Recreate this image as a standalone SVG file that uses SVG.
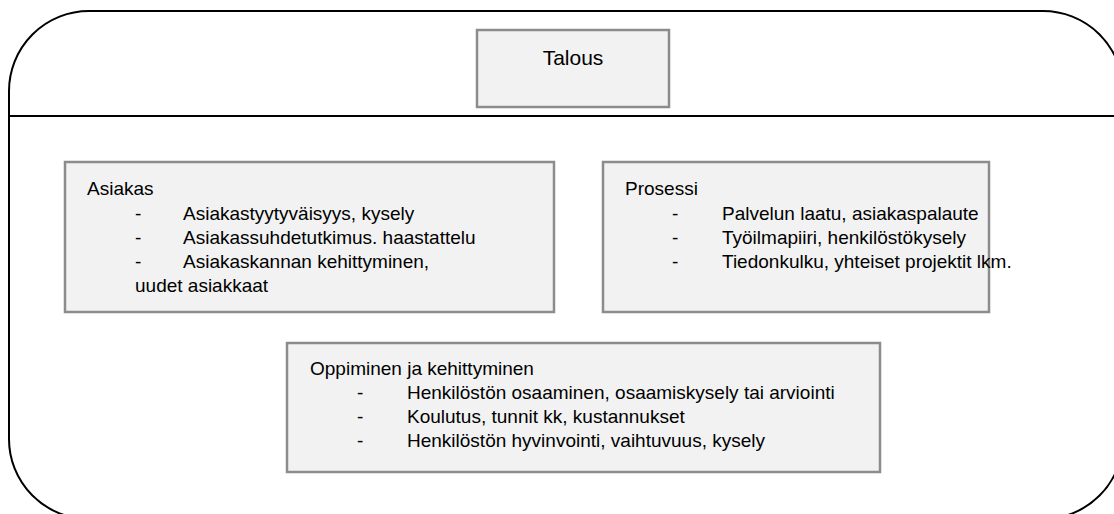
<svg xmlns="http://www.w3.org/2000/svg" width="1114" height="514" viewBox="0 0 1114 514">
  <style>
    .box { fill: #f2f2f2; stroke: #8c8c8c; stroke-width: 2.5; }
    .frame { fill: #ffffff; stroke: #000000; stroke-width: 2; }
    .t { font-family: "Liberation Sans", Arial, sans-serif; font-size: 19px; fill: #000000; }
    .title { font-family: "Liberation Sans", Arial, sans-serif; font-size: 21px; fill: #000000; text-anchor: middle; }
  </style>
  <rect width="1114" height="514" fill="#ffffff"/>
  <g id="frame">
    <rect class="frame" x="9" y="11" width="1114" height="508" rx="80" ry="80"/>
    <line x1="9" y1="116" x2="1114" y2="116" stroke="#000000" stroke-width="2"/>
  </g>
  <g id="talous">
    <rect class="box" x="477" y="30" width="192" height="77"/>
    <text class="title" x="573" y="65">Talous</text>
  </g>
  <g id="asiakas">
    <rect class="box" x="65" y="162" width="489" height="150"/>
    <text class="t" x="87" y="195">Asiakas</text>
    <text class="t" x="135" y="220">-</text>
    <text class="t" x="183" y="220">Asiakastyytyväisyys, kysely</text>
    <text class="t" x="135" y="244">-</text>
    <text class="t" x="183" y="244">Asiakassuhdetutkimus. haastattelu</text>
    <text class="t" x="135" y="268">-</text>
    <text class="t" x="183" y="268">Asiakaskannan kehittyminen,</text>
    <text class="t" x="135" y="292">uudet asiakkaat</text>
  </g>
  <g id="prosessi">
    <rect class="box" x="603" y="162" width="386" height="150"/>
    <text class="t" x="625" y="195">Prosessi</text>
    <text class="t" x="672" y="220">-</text>
    <text class="t" x="722" y="220">Palvelun laatu, asiakaspalaute</text>
    <text class="t" x="672" y="244">-</text>
    <text class="t" x="722" y="244">Työilmapiiri, henkilöstökysely</text>
    <text class="t" x="672" y="268">-</text>
    <text class="t" x="722" y="268">Tiedonkulku, yhteiset projektit lkm.</text>
  </g>
  <g id="oppiminen">
    <rect class="box" x="287" y="343" width="593" height="129"/>
    <text class="t" x="310" y="375">Oppiminen ja kehittyminen</text>
    <text class="t" x="357" y="399">-</text>
    <text class="t" x="407" y="399">Henkilöstön osaaminen, osaamiskysely tai arviointi</text>
    <text class="t" x="357" y="423">-</text>
    <text class="t" x="407" y="423">Koulutus, tunnit kk, kustannukset</text>
    <text class="t" x="357" y="447">-</text>
    <text class="t" x="407" y="447">Henkilöstön hyvinvointi, vaihtuvuus, kysely</text>
  </g>
  <g id="connectors"/>
</svg>
